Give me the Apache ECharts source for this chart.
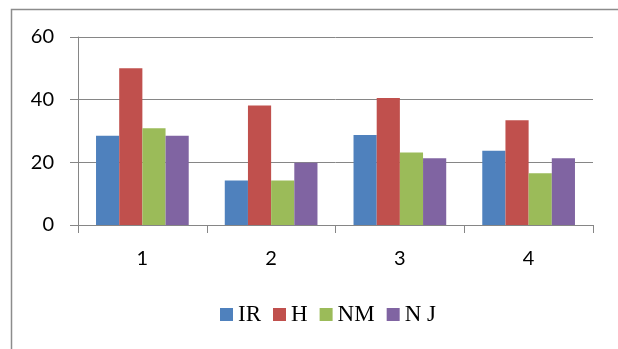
<!DOCTYPE html>
<html>
<head>
<meta charset="utf-8">
<script src="https://cdn.jsdelivr.net/npm/echarts@6/dist/echarts.min.js"></script>
<style>
  html, body { margin: 0; padding: 0; background: #fff; }
  #chart { width: 618px; height: 349px; }
</style>
</head>
<body>
<div id="chart"></div>
<script>
var categories = ['1', '2', '3', '4'];
var irValues = [28.5, 14.2, 28.7, 23.7];
var hValues = [50, 38.1, 40.5, 33.4];
var nmValues = [30.9, 14.2, 23.1, 16.5];
var njValues = [28.5, 19.9, 21.3, 21.3];
var seriesNames = ['IR', 'H', 'NM', 'N J'];
var yTicks = [0, 20, 40, 60];

var colors = ['#4F81BD', '#C0504D', '#9BBB59', '#8064A2'];
var chart = echarts.init(document.getElementById('chart'));

var option = {
    backgroundColor: '#fff',
    animation: false,
    color: colors,
    graphic: [{
        type: 'rect',
        left: 9, top: 7,
        shape: { width: 700, height: 400 },
        style: { fill: 'none', stroke: '#8c8c8c', lineWidth: 1.5 },
        silent: true
    }],
    grid: { left: 78, right: 25, top: 37, bottom: 124 },
    legend: {
        data: seriesNames,
        left: 215,
        top: 298,
        itemWidth: 13,
        itemHeight: 13,
        itemGap: 12,
        icon: 'rect',
        textStyle: { fontFamily: 'Liberation Serif', fontSize: 23, color: '#000' }
    },
    xAxis: {
        type: 'category',
        data: categories,
        axisLine: { lineStyle: { color: '#868686', width: 1 } },
        axisTick: { show: true, length: 8, lineStyle: { color: '#868686' } },
        axisLabel: { margin: 24, fontFamily: 'Lato', fontSize: 20, color: '#000' }
    },
    yAxis: {
        type: 'value',
        min: yTicks[0],
        max: yTicks[yTicks.length - 1],
        interval: 20,
        axisLine: { show: true, lineStyle: { color: '#868686', width: 1 } },
        axisTick: { show: true, length: 8, lineStyle: { color: '#868686' } },
        splitLine: { lineStyle: { color: '#868686', width: 1 } },
        axisLabel: { margin: 24, fontFamily: 'Lato', fontSize: 20, color: '#000' }
    },
    series: [
        { name: seriesNames[0], type: 'bar', data: irValues, barGap: '0%', barCategoryGap: '28%' },
        { name: seriesNames[1], type: 'bar', data: hValues, barGap: '0%', barCategoryGap: '28%' },
        { name: seriesNames[2], type: 'bar', data: nmValues, barGap: '0%', barCategoryGap: '28%' },
        { name: seriesNames[3], type: 'bar', data: njValues, barGap: '0%', barCategoryGap: '28%' }
    ]
};

option && chart.setOption(option);
</script>
</body>
</html>
